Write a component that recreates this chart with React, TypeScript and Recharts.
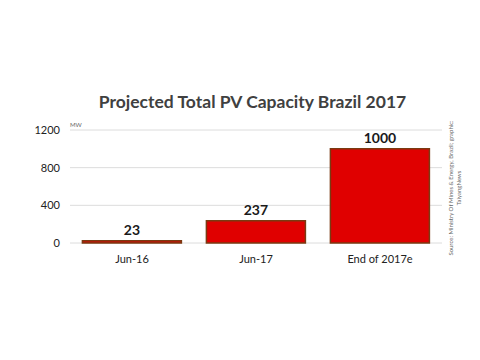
import { Bar, BarChart, CartesianGrid, LabelList, XAxis, YAxis } from "recharts";

const categories = ["Jun-16", "Jun-17", "End of 2017e"];
const capacityMW = [23, 237, 1000];
const yTicks = [0, 400, 800, 1200];

const data = categories.map((name, i) => ({ name, value: capacityMW[i] }));

const font = "Lato, 'Open Sans', sans-serif";

export default function App() {
  return (
    <div
      style={{
        position: "absolute",
        left: 0,
        top: 0,
        width: 480,
        height: 360,
        background: "#fff",
        fontFamily: font,
      }}
    >
      <div
        style={{
          position: "absolute",
          top: 91,
          left: 0,
          width: 505,
          textAlign: "center",
          fontSize: 17.5,
          fontWeight: 700,
          color: "#404040",
        }}
      >
        Projected Total PV Capacity Brazil 2017
      </div>
      <div
        style={{
          position: "absolute",
          top: 121,
          left: 70,
          fontSize: 6,
          color: "#666",
        }}
      >
        MW
      </div>
      <div
        style={{
          position: "absolute",
          left: 455,
          top: 188,
          width: 180,
          transform: "translate(-50%, -50%) rotate(-90deg)",
          textAlign: "center",
          fontSize: 6,
          lineHeight: "8px",
          color: "#666",
        }}
      >
        Source: Ministry Of Mines &amp; Energy, Brazil; graphic:
        <br />
        TaiyangNews
      </div>
      <BarChart
        width={480}
        height={360}
        data={data}
        margin={{ top: 130, right: 38, left: 30, bottom: 87 }}
        barCategoryGap="10%"
        style={{ position: "absolute", left: 0, top: 0 }}
      >
        <CartesianGrid vertical={false} stroke="#dcdcdc" />
        <XAxis
          dataKey="name"
          height={30}
          axisLine={false}
          tickLine={false}
          tickMargin={6}
          tick={{ fontSize: 11, fill: "#222", fontFamily: font }}
        />
        <YAxis
          width={40}
          domain={[0, 1200]}
          ticks={yTicks}
          axisLine={false}
          tickLine={false}
          tickSize={0}
          tickMargin={10}
          tick={{ fontSize: 11, fill: "#222", fontFamily: font }}
        />
        <Bar
          dataKey="value"
          fill="#e00000"
          stroke="#7a3a12"
          strokeWidth={1.5}
          isAnimationActive={false}
        >
          <LabelList
            dataKey="value"
            position="top"
            offset={6}
            style={{ fontSize: 14, fontWeight: 700, fill: "#1a1a1a", fontFamily: font }}
          />
        </Bar>
      </BarChart>
    </div>
  );
}
